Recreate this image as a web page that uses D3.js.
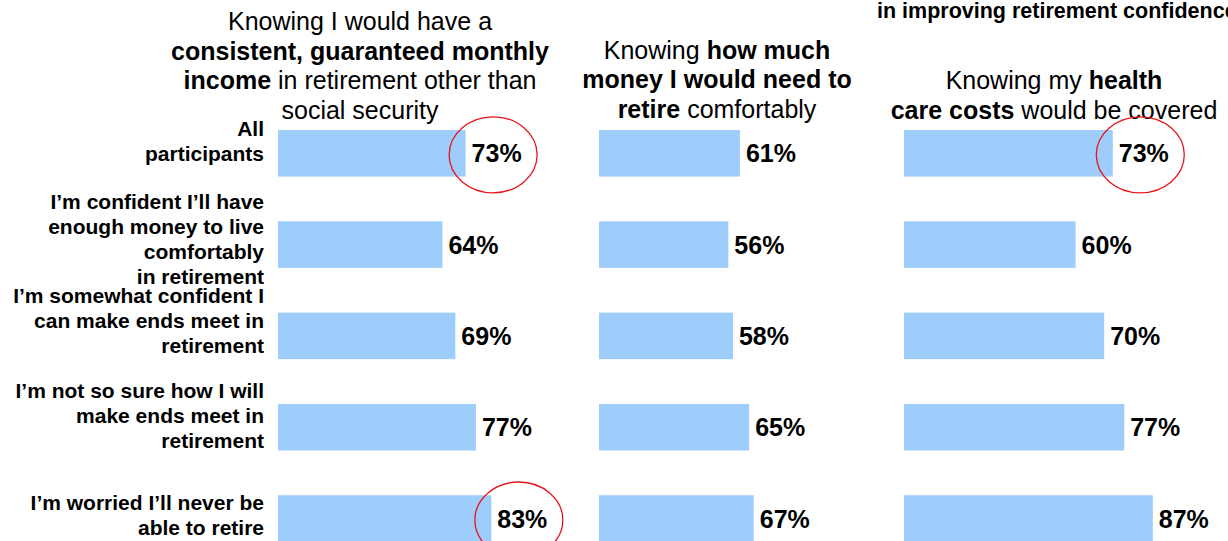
<!DOCTYPE html>
<html>
<head>
<meta charset="utf-8">
<script src="https://cdn.jsdelivr.net/npm/d3@7"></script>
<style>
  html, body { margin: 0; padding: 0; background: #fff; overflow: hidden; }
  svg { display: block; font-family: "Liberation Sans", Arial, Helvetica, sans-serif; }
</style>
</head>
<body>
<svg id="chart" width="1228" height="541"></svg>
<script>
// Respondent groups (row labels, one entry per wrapped line)
const categories = [
  ["All", "participants"],
  ["I\u2019m confident I\u2019ll have", "enough money to live", "comfortably", "in retirement"],
  ["I\u2019m somewhat confident I", "can make ends meet in", "retirement"],
  ["I\u2019m not so sure how I will", "make ends meet in", "retirement"],
  ["I\u2019m worried I\u2019ll never be", "able to retire"]
];

// Share of each group (%) saying the factor would improve their confidence
const guaranteedIncome = [73, 64, 69, 77, 83];
const knowingAmountNeeded = [61, 56, 58, 65, 67];
const healthCostsCovered = [73, 60, 70, 77, 87];

// Column headings: lines of [text, bold] runs
const incomeTitle = [
  [["Knowing I would have a", false]],
  [["consistent, guaranteed monthly", true]],
  [["income", true], [" in retirement other than", false]],
  [["social security", false]]
];
const amountTitle = [
  [["Knowing ", false], ["how much", true]],
  [["money I would need to", true]],
  [["retire", true], [" comfortably", false]]
];
const healthTitle = [
  [["Knowing my ", false], ["health", true]],
  [["care costs", true], [" would be covered", false]]
];

const headline = "in improving retirement confidence";

// Highlighted values: [column index, row index]
const highlighted = [[0, 0], [0, 4], [2, 0]];

// ---- layout ----
const svg = d3.select("#chart");
const barColor = "#9FCDFB";
const labelRight = 264;
const lineH = 25;

const columns = [
  { values: guaranteedIncome,    title: incomeTitle, x0: 278, span: 257, cx: 360,  lastBase: 119 },
  { values: knowingAmountNeeded, title: amountTitle, x0: 599, span: 231, cx: 717,  lastBase: 118 },
  { values: healthCostsCovered,  title: healthTitle, x0: 904, span: 286, cx: 1054, lastBase: 118.5 }
];

const y = d3.scaleBand()
  .domain(d3.range(categories.length))
  .range([130, 541.8])
  .paddingInner(0.49)
  .paddingOuter(0);

// small per-row nudges so the wrapped labels sit like the original text boxes
const labelNudge = [-4.75, 1.95, -8.15, -3.85, 4.05];

// headline fragment at the top right (runs past the right edge)
svg.append("text")
  .attr("x", 877).attr("y", 18)
  .attr("font-size", 21.5).attr("font-weight", "bold")
  .attr("fill", "#000")
  .text(headline);

// row labels
const rowG = svg.append("g").attr("class", "row-labels");
categories.forEach((lines, i) => {
  const c = y(i) + y.bandwidth() / 2;
  const first = c - (lines.length - 1) * lineH / 2 + labelNudge[i];
  const t = rowG.append("text")
    .attr("text-anchor", "end")
    .attr("font-size", 21).attr("font-weight", "bold")
    .attr("fill", "#000");
  lines.forEach((ln, j) => {
    t.append("tspan").attr("x", labelRight).attr("y", first + j * lineH).text(ln);
  });
});

// columns
columns.forEach((col, ci) => {
  const x = d3.scaleLinear().domain([0, 100]).range([col.x0, col.x0 + col.span]);
  const g = svg.append("g").attr("class", "col-" + ci);

  // heading
  const nLines = col.title.length;
  col.title.forEach((runs, li) => {
    const t = g.append("text")
      .attr("x", col.cx)
      .attr("y", col.lastBase - (nLines - 1 - li) * 29.7)
      .attr("text-anchor", "middle")
      .attr("font-size", 25)
      .attr("fill", "#000");
    runs.forEach(([txt, bold]) => {
      t.append("tspan").attr("font-weight", bold ? "bold" : "normal").text(txt);
    });
  });

  // bars
  g.selectAll("rect")
    .data(col.values)
    .join("rect")
    .attr("x", x(0))
    .attr("y", (d, i) => y(i))
    .attr("width", d => x(d) - x(0))
    .attr("height", y.bandwidth())
    .attr("fill", barColor);

  // value labels
  const labels = g.selectAll("text.value")
    .data(col.values)
    .join("text")
    .attr("class", "value")
    .attr("x", d => x(d) + 6)
    .attr("y", (d, i) => y(i) + y.bandwidth() / 2 + 9)
    .attr("font-size", 25).attr("font-weight", "bold")
    .attr("fill", "#000")
    .text(d => d + "%");

  // red ellipses around the highlighted values
  labels.each(function (d, i) {
    if (!highlighted.some(([c, r]) => c === ci && r === i)) return;
    const w = this.getComputedTextLength();
    g.append("ellipse")
      .attr("cx", x(d) + 6 + w / 2 - 3.5)
      .attr("cy", y(i) + y.bandwidth() / 2 + 1.5)
      .attr("rx", 44).attr("ry", 38)
      .attr("fill", "none")
      .attr("stroke", "#E8141B")
      .attr("stroke-width", 1.3);
  });
});
</script>
</body>
</html>
